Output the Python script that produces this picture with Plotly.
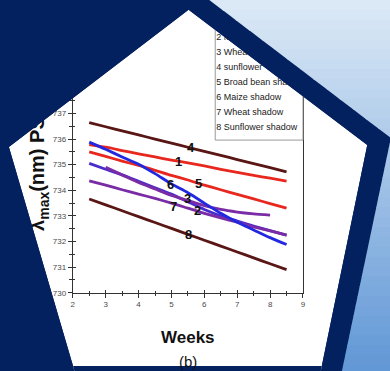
import plotly.graph_objects as go

W, H = 390, 371

# ---------------- data ----------------
weeks = [2.5, 3.0, 3.5, 4.0, 4.5, 5.0, 5.5, 6.0, 6.5, 7.0, 7.5, 8.0, 8.5]
weeks_wheat = [3.0, 3.5, 4.0, 4.5, 5.0, 5.5, 6.0, 6.5, 7.0, 7.5, 8.0]

broad_bean = [735.78, 735.68, 735.55, 735.42, 735.30, 735.18, 735.07, 734.95, 734.82, 734.70, 734.58, 734.47, 734.36]
maize = [735.05, 734.82, 734.60, 734.35, 734.10, 733.85, 733.55, 733.25, 733.00, 732.80, 732.60, 732.42, 732.25]
wheat = [734.90, 734.60, 734.30, 734.05, 733.80, 733.60, 733.40, 733.25, 733.15, 733.08, 733.03]
sunflower = [736.64, 736.48, 736.32, 736.16, 736.00, 735.84, 735.68, 735.52, 735.36, 735.20, 735.04, 734.88, 734.72]
broad_bean_shadow = [735.50, 735.32, 735.14, 734.97, 734.78, 734.58, 734.40, 734.20, 734.02, 733.84, 733.66, 733.48, 733.30]
maize_shadow = [735.88, 735.60, 735.30, 735.02, 734.65, 734.25, 733.90, 733.50, 733.10, 732.75, 732.45, 732.15, 731.88]
wheat_shadow = [734.37, 734.20, 734.02, 733.85, 733.68, 733.50, 733.30, 733.10, 732.92, 732.75, 732.57, 732.41, 732.25]
sunflower_shadow = [733.66, 733.43, 733.20, 732.97, 732.74, 732.51, 732.28, 732.05, 731.82, 731.59, 731.36, 731.13, 730.90]

legend_labels = ["1 Broad bean", "2 Maize", "3 Wheat", "4 sunflower", "5 Broad bean shadow",
                 "6 Maize shadow", "7 Wheat shadow", "8 Sunflower shadow"]
line_tags = ["1", "2", "3", "4", "5", "6", "7", "8"]
tag_x = [5.2, 5.8, 5.5, 5.6, 5.82, 4.98, 5.05, 5.53]
tag_y = [735.14, 733.21, 733.66, 735.65, 734.26, 734.21, 733.37, 732.29]

x_ticks = [2, 3, 4, 5, 6, 7, 8, 9]
y_ticks = [730, 731, 732, 733, 734, 735, 736, 737, 738, 739, 740]

NAVY = "#03205f"
RED = "#e8281f"
BLUE = "#2228e0"
PURPLE = "#7a2ca6"
VIOLET = "#4a2ccc"
BROWN = "#5a1515"
FONT = "Liberation Sans, Arial"

def X(px):
    return px / W

def Y(py):
    return 1 - py / H

fig = go.Figure()

series = [
    (weeks, maize, VIOLET),
    (weeks_wheat, wheat, PURPLE),
    (weeks, wheat_shadow, PURPLE),
    (weeks, sunflower_shadow, BROWN),
    (weeks, sunflower, BROWN),
    (weeks, broad_bean_shadow, RED),
    (weeks, broad_bean, RED),
    (weeks, maize_shadow, BLUE),
]
for xs, ys, col in series:
    fig.add_trace(go.Scatter(x=xs, y=ys, mode="lines",
                             line=dict(color=col, width=2.8, shape="spline", smoothing=0.6),
                             xaxis="x", yaxis="y", hoverinfo="skip"))

# dummy trace for inside-tick overlay axes
fig.add_trace(go.Scatter(x=[None], y=[None], xaxis="x3", yaxis="y3", mode="lines"))

# legend text on a pixel-coordinate overlay (so the frame can cover it)
leg_y = [22.8 + 15.3 * i for i in range(len(legend_labels))]
fig.add_trace(go.Scatter(x=[217] * len(legend_labels), y=leg_y, text=legend_labels, mode="text",
                         textposition="middle right", cliponaxis=False,
                         textfont=dict(family=FONT, size=9, color="#1a1a1a"),
                         xaxis="x2", yaxis="y2", hoverinfo="skip"))

x_dom = [X(71.7), X(304.9)]
y_dom = [Y(296.7), Y(296.7 - 11 * 25.96)]

tickfont = dict(family=FONT, size=8, color="#4a4a4a")

fig.update_layout(
    width=W, height=H,
    margin=dict(l=0, r=0, t=0, b=0),
    paper_bgcolor=NAVY,
    plot_bgcolor="rgba(0,0,0,0)",
    showlegend=False,
    xaxis=dict(domain=x_dom, range=[2, 9], tickvals=x_ticks, ticks="outside", ticklen=4, tickwidth=1,
               tickcolor="#333", showline=True, linecolor="#333", linewidth=1, mirror=False,
               showgrid=False, zeroline=False, tickfont=tickfont, anchor="y",
               minor=dict(dtick=0.5, tick0=2, ticks="outside", ticklen=2.5, tickcolor="#333")),
    yaxis=dict(domain=y_dom, range=[730, 741], tickvals=y_ticks, ticks="outside", ticklen=4, tickwidth=1,
               tickcolor="#333", showline=True, linecolor="#333", linewidth=1, mirror=True,
               showgrid=False, zeroline=False, tickfont=tickfont, anchor="x",
               minor=dict(dtick=0.5, tick0=730, ticks="outside", ticklen=2.5, tickcolor="#333")),
    xaxis3=dict(overlaying="x", range=[2, 9], tickvals=x_ticks, ticks="inside", ticklen=3, tickcolor="#333",
                showticklabels=False, showline=False, showgrid=False, zeroline=False, anchor="y", side="bottom",
                minor=dict(dtick=0.5, tick0=2, ticks="inside", ticklen=2, tickcolor="#333")),
    yaxis3=dict(overlaying="y", range=[730, 741], tickvals=y_ticks, ticks="inside", ticklen=3, tickcolor="#333",
                showticklabels=False, showline=False, showgrid=False, zeroline=False, anchor="x", side="left",
                minor=dict(dtick=0.5, tick0=730, ticks="inside", ticklen=2, tickcolor="#333")),
    xaxis2=dict(domain=[0, 1], range=[0, W], visible=False, anchor="y2"),
    yaxis2=dict(domain=[0, 1], range=[H, 0], anchor="free", position=X(47), side="left",
                showline=False, showgrid=False, zeroline=False, ticks="",
                tickvals=[179], ticktext=["λ<sub>max</sub>(nm) PS"], tickangle=-90,
                tickfont=dict(family=FONT, size=20, color="#111", weight="bold")),
)

# ---------------- shapes: pentagon frame ----------------
pent = [(189, 10), (370, 147), (319, 395), (79, 395), (7, 149)]

def path_of(pts):
    return "M" + " L".join(f"{X(a):.5f},{Y(b):.5f}" for a, b in pts) + " Z"

shapes = []
shapes.append(dict(type="path", path=path_of(pent), xref="paper", yref="paper",
                   fillcolor="white", line=dict(width=0), layer="below"))
# legend box
shapes.append(dict(type="rect", xref="paper", yref="paper", x0=X(216), x1=X(304.9), y0=Y(142), y1=Y(5),
                   line=dict(color="#9a9a9a", width=1), fillcolor="rgba(0,0,0,0)", layer="above"))
# navy mask outside the pentagon
mask = "M0,0 L1,0 L1,1 L0,1 Z " + path_of(pent)
shapes.append(dict(type="path", path=mask, xref="paper", yref="paper", fillcolor=NAVY,
                   fillrule="evenodd", line=dict(width=0), layer="above"))

# light blue gradient region beyond the navy band
light = [(210, 0), (430, 0), (430, 400), (339.3, 400), (393.9, 139.9)]

def clip_y(poly, y0, y1):
    def clip(pts, inside, inter):
        out = []
        n = len(pts)
        for i in range(n):
            cur, prv = pts[i], pts[i - 1]
            if inside(cur):
                if not inside(prv):
                    out.append(inter(prv, cur))
                out.append(cur)
            elif inside(prv):
                out.append(inter(prv, cur))
        return out

    def at_y(yy):
        return lambda p, q: (p[0] + (q[0] - p[0]) * (yy - p[1]) / (q[1] - p[1]), yy)

    pts = clip(poly, lambda p: p[1] >= y0, at_y(y0))
    if not pts:
        return pts
    return clip(pts, lambda p: p[1] <= y1, at_y(y1))

c_top = (221, 234, 246)
c_bot = (98, 152, 214)
N = 40
for i in range(N):
    ya = i * 400 / N
    yb = (i + 1) * 400 / N + 0.8
    pts = clip_y(light, ya, yb)
    if len(pts) < 3:
        continue
    t = min(1.0, ((ya + yb) / 2) / H)
    col = "rgb(%d,%d,%d)" % tuple(round(c_top[k] + (c_bot[k] - c_top[k]) * t) for k in range(3))
    shapes.append(dict(type="path", path=path_of(pts), xref="paper", yref="paper", fillcolor=col,
                       line=dict(width=0), layer="above"))

fig.update_layout(shapes=shapes)

# ---------------- annotations ----------------
ann = []
for tx, ty, tg in zip(tag_x, tag_y, line_tags):
    ann.append(dict(x=tx, y=ty, xref="x", yref="y", text=tg, showarrow=False,
                    xanchor="center", yanchor="middle",
                    font=dict(family=FONT, size=13, color="#111", weight="bold")))
ann.append(dict(x=X(188), y=Y(342), xref="paper", yref="paper", text="Weeks", showarrow=False,
                xanchor="center", yanchor="middle",
                font=dict(family=FONT, size=17, color="#111", weight="bold")))
ann.append(dict(x=X(188), y=Y(366), xref="paper", yref="paper", text="(b)", showarrow=False,
                xanchor="center", yanchor="middle",
                font=dict(family=FONT, size=15, color="#111")))
fig.update_layout(annotations=ann)

fig.write_html("out.html", config={"displayModeBar": False},
               post_script="document.body.style.margin='0';document.body.style.padding='0';")
